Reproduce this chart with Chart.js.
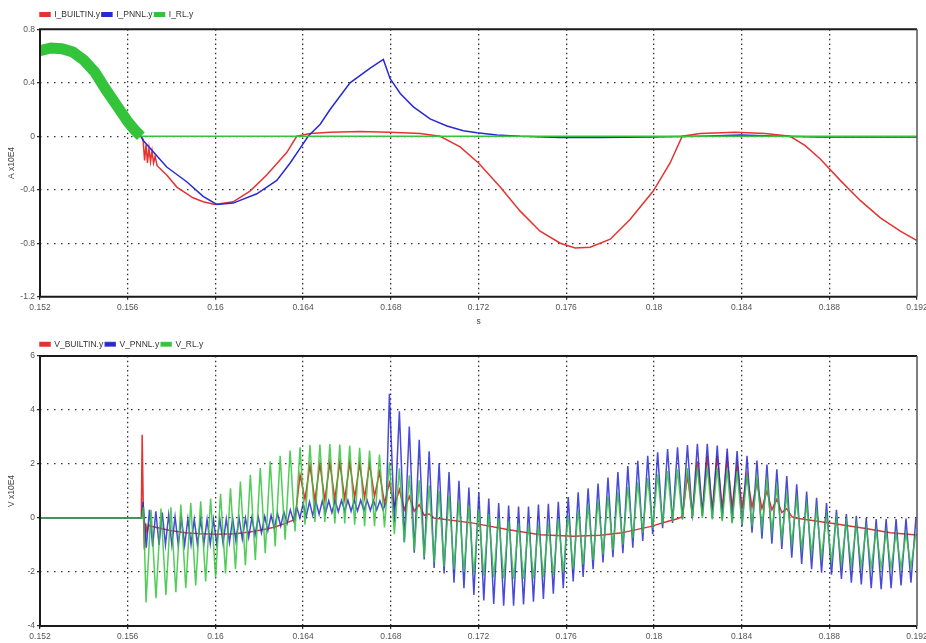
<!DOCTYPE html>
<html><head><meta charset="utf-8">
<script src="https://cdn.jsdelivr.net/npm/chart.js@4.4.1/dist/chart.umd.min.js"></script>
<style>
html,body{margin:0;padding:0;background:#fff;width:926px;height:643px;overflow:hidden;}
#c1{position:absolute;left:0;top:0;}
#c2{position:absolute;left:0;top:332px;}
</style></head><body>
<canvas id="c1" width="926" height="332"></canvas>
<canvas id="c2" width="926" height="311"></canvas>
<script>
// ---------- axes ----------
const xTickValues = [0.152,0.156,0.16,0.164,0.168,0.172,0.176,0.18,0.184,0.188,0.192];
const xTickLabels = ['0.152','0.156','0.16','0.164','0.168','0.172','0.176','0.18','0.184','0.188','0.192'];
const iTickValues = [-1.2,-0.8,-0.4,0,0.4,0.8];
const iTickLabels = ['-1.2','-0.8','-0.4','0','0.4','0.8'];
const vTickValues = [-4,-2,0,2,4,6];
const vTickLabels = ['-4','-2','0','2','4','6'];
const namesI = ['I_BUILTIN.y','I_PNNL.y','I_RL.y'];
const namesV = ['V_BUILTIN.y','V_PNNL.y','V_RL.y'];

// ---------- currents (A x10E4) ----------
// common pre-fault waveform (all three models coincide)
const tIPre = [0.152,0.1525,0.153,0.1535,0.154,0.1545,0.155,0.1555,0.156,0.1563,0.1566];
const iPre  = [0.64,0.66,0.655,0.63,0.57,0.48,0.35,0.23,0.11,0.05,0.0];

const tIBuiltin = [0.1567,0.15677,0.15684,0.1569,0.15697,0.15704,0.15711,0.15718,0.15725,0.15734,0.15778,0.15824,0.15898,0.15944,0.15998,0.16081,0.16158,0.16234,0.16326,0.16371,0.16432,0.16523,0.1666,0.16797,0.16934,0.17025,0.17116,0.172,0.17299,0.1739,0.17481,0.17573,0.17641,0.17709,0.17801,0.17892,0.17997,0.18074,0.18129,0.18211,0.18371,0.18508,0.18622,0.1869,0.18759,0.1885,0.18941,0.19033,0.19124,0.192];
const iBuiltin  = [-0.02,-0.18,-0.06,-0.20,-0.09,-0.19,-0.11,-0.20,-0.15,-0.22,-0.29,-0.38,-0.46,-0.49,-0.51,-0.49,-0.41,-0.29,-0.12,0.0,0.02,0.03,0.035,0.03,0.02,0.0,-0.08,-0.2,-0.38,-0.56,-0.71,-0.8,-0.835,-0.83,-0.77,-0.62,-0.41,-0.2,0.0,0.02,0.03,0.02,0.0,-0.07,-0.17,-0.33,-0.48,-0.61,-0.71,-0.78];

const tIPnnl = [0.1567,0.15778,0.15869,0.15944,0.16006,0.16081,0.16189,0.1628,0.16341,0.16386,0.16423,0.16478,0.16523,0.16614,0.16706,0.16766,0.16797,0.16843,0.16903,0.16979,0.17056,0.17131,0.17193,0.17284,0.1739,0.17573,0.17755,0.17983,0.18211,0.18394,0.18576,0.18759,0.192];
const iPnnl  = [-0.03,-0.23,-0.34,-0.45,-0.51,-0.50,-0.43,-0.33,-0.2,-0.09,0.0,0.09,0.2,0.4,0.51,0.575,0.43,0.32,0.22,0.13,0.077,0.042,0.027,0.01,0.0,-0.01,-0.01,-0.005,0.0,0.01,0.0,-0.005,-0.005];

const tIRl = [0.1567,0.192];
const iRl  = [0.0,0.0];

// ---------- voltages (V x10E4) ----------
// instants of the ringing extrema (alternating trough / peak)
const tRing = [
0.156837,0.157064,0.157290,0.157517,0.157743,0.157970,0.158196,0.158423,0.158649,0.158876,
0.159102,0.159329,0.159556,0.159782,0.160009,0.160235,0.160462,0.160688,0.160915,0.161141,
0.161368,0.161594,0.161821,0.162047,0.162274,0.162501,0.162727,0.162954,0.163180,0.163407,
0.163633,0.163860,0.164086,0.164313,0.164539,0.164766,0.164992,0.165219,0.165446,0.165672,
0.165899,0.166125,0.166352,0.166578,0.166805,0.167031,0.167258,0.167484,0.167711,0.167937,
0.168164,0.168391,0.168617,0.168844,0.169070,0.169297,0.169523,0.169750,0.169976,0.170203,
0.170429,0.170656,0.170882,0.171109,0.171336,0.171562,0.171789,0.172015,0.172242,0.172468,
0.172695,0.172921,0.173148,0.173374,0.173601,0.173827,0.174054,0.174281,0.174507,0.174734,
0.174960,0.175187,0.175413,0.175640,0.175866,0.176093,0.176319,0.176546,0.176773,0.176999,
0.177226,0.177452,0.177679,0.177905,0.178132,0.178358,0.178585,0.178811,0.179038,0.179265,
0.179491,0.179718,0.179944,0.180171,0.180397,0.180624,0.180850,0.181077,0.181303,0.181530,
0.181756,0.181983,0.182210,0.182436,0.182663,0.182889,0.183116,0.183342,0.183569,0.183795,
0.184022,0.184248,0.184475,0.184701,0.184928,0.185155,0.185381,0.185608,0.185834,0.186061,
0.186287,0.186514,0.186740,0.186967,0.187193,0.187420,0.187646,0.187873,0.188100,0.188326,
0.188553,0.188779,0.189006,0.189232,0.189459,0.189685,0.189912,0.190138,0.190365,0.190592,
0.190818,0.191045,0.191271,0.191498,0.191724,0.191951];

// V_RL at each ringing extremum
const vRlRing = [
-3.13,0.3,-2.97,0.35,-2.85,0.4,-2.75,0.5,-2.6,0.55,
-2.5,0.62,-2.35,0.72,-2.2,0.9,-2.05,1.1,-1.9,1.35,
-1.75,1.6,-1.55,1.85,-1.3,2.1,-1.05,2.3,-0.8,2.5,
-0.5,2.62,-0.25,2.7,-0.15,2.72,-0.15,2.74,-0.2,2.72,
-0.2,2.68,-0.25,2.6,-0.3,2.5,-0.3,2.35,-0.35,2.06,
-0.6,1.84,-0.9,1.58,-1.2,1.4,-1.45,1.2,-1.65,1.0,
-1.8,0.83,-1.9,0.62,-2.0,0.45,-2.08,0.3,-2.14,0.15,
-2.2,0.0,-2.24,-0.1,-2.26,-0.2,-2.26,-0.25,-2.24,-0.25,
-2.2,-0.2,-2.12,-0.05,-2.0,0.1,-1.88,0.3,-1.72,0.5,
-1.55,0.65,-1.35,0.8,-1.18,0.95,-0.98,1.15,-0.75,1.32,
-0.55,1.48,-0.38,1.62,-0.24,1.74,-0.12,1.8,-0.04,1.85,
0.0,1.88,0.0,1.88,-0.05,1.85,-0.12,1.8,-0.2,1.72,
-0.25,1.6,-0.3,1.5,-0.35,1.39,-0.5,1.15,-0.75,0.85,
-0.95,0.7,-1.12,0.5,-1.3,0.3,-1.45,0.1,-1.58,-0.03,
-1.68,-0.15,-1.75,-0.25,-1.8,-0.35,-1.84,-0.45,-1.85,-0.52,
-1.85,-0.56,-1.84,-0.58,-1.8,-0.58];

// V_PNNL: fast ripple before 0.168 s
const tPnnlEarly = [
0.156700,0.156846,0.156992,0.157138,0.157284,0.157430,0.157576,0.157722,0.157868,0.158014,
0.158160,0.158306,0.158452,0.158598,0.158744,0.158890,0.159036,0.159182,0.159328,0.159474,
0.159620,0.159766,0.159912,0.160058,0.160204,0.160350,0.160496,0.160642,0.160788,0.160934,
0.161080,0.161226,0.161372,0.161518,0.161664,0.161810,0.161956,0.162102,0.162248,0.162394,
0.162540,0.162686,0.162832,0.162978,0.163124,0.163270,0.163416,0.163562,0.163708,0.163854,
0.164000,0.164146,0.164292,0.164438,0.164584,0.164730,0.164876,0.165022,0.165168,0.165314,
0.165460,0.165606,0.165752,0.165898,0.166044,0.166190,0.166336,0.166482,0.166628,0.166774,
0.166920,0.167066,0.167212,0.167358,0.167504,0.167650,0.167796];
const vPnnlEarly = [
0.6,-1.1,0.3,-1.05,0.25,-1.0,0.2,-1.0,0.12,-1.0,
0.05,-1.0,0.0,-1.0,-0.03,-0.98,-0.05,-0.98,-0.05,-0.97,
-0.05,-0.96,-0.05,-0.95,-0.04,-0.94,-0.03,-0.9,-0.02,-0.85,
0.0,-0.78,0.0,-0.72,0.01,-0.63,0.04,-0.55,0.06,-0.47,
0.1,-0.38,0.17,-0.3,0.22,-0.2,0.3,-0.1,0.4,0.0,
0.52,0.06,0.6,0.1,0.62,0.14,0.63,0.18,0.64,0.2,
0.65,0.23,0.65,0.25,0.66,0.25,0.66,0.26,0.66,0.27,
0.66,0.28,0.65,0.3,0.64,0.3,0.6];
// V_PNNL at ringing extrema from index 49 (0.167937 s) on
const vPnnlRing = [
4.6,
-0.17,3.95,-0.9,3.39,-1.29,2.9,-1.54,2.47,-1.85,2.04,
-2.05,1.7,-2.4,1.38,-2.6,1.13,-2.85,0.95,-3.05,0.72,
-3.18,0.55,-3.25,0.46,-3.25,0.42,-3.2,0.42,-3.1,0.5,
-3.0,0.53,-2.8,0.6,-2.6,0.78,-2.35,0.95,-2.18,1.1,
-1.9,1.28,-1.65,1.5,-1.45,1.7,-1.3,1.92,-1.1,2.12,
-0.85,2.3,-0.6,2.43,-0.38,2.55,-0.18,2.62,-0.05,2.7,
0.0,2.75,0.08,2.75,0.0,2.68,-0.05,2.57,-0.16,2.48,
-0.3,2.3,-0.54,2.13,-0.77,1.98,-0.95,1.8,-1.15,1.55,
-1.47,1.25,-1.7,0.98,-1.9,0.75,-2.03,0.55,-2.1,0.3,
-2.26,0.15,-2.4,0.08,-2.46,0.0,-2.6,-0.04,-2.64,-0.04,
-2.6,-0.04,-2.5,-0.02,-2.4,0.0];

const tVBuiltin = [
0.152,0.15662,0.15666,0.15671,0.15676,0.15682,0.15688,0.15695,0.15702,0.15748,0.15793,0.15862,0.1593,0.16012,0.1609,0.16158,0.16227,0.16272,0.16318,0.163633,
0.16386,0.164086,0.164313,0.164539,0.164766,0.164992,0.165219,0.165446,0.165672,0.165899,0.166125,0.166352,0.166578,0.166805,0.167031,0.167258,0.167484,0.167711,0.167937,0.168164,0.168391,0.168617,0.168844,0.16907,0.169297,0.169523,0.16975,
0.169976,0.17176,0.17331,0.17481,0.17632,0.17755,0.17846,0.17983,0.18065,0.181077,
0.181303,0.18153,0.181756,0.181983,0.18221,0.182436,0.182663,0.182889,0.183116,0.183342,0.183569,0.183795,0.184022,0.184248,0.184475,0.184701,0.184928,0.185155,0.185381,0.185608,0.185834,0.186061,0.186287,
0.18645,0.18818,0.18973,0.19078,0.192];
const vVBuiltin = [
0,0,3.08,0.4,-1.17,-0.2,-0.55,-0.25,-0.3,-0.38,-0.46,-0.55,-0.58,-0.6,-0.58,-0.52,-0.42,-0.33,-0.2,-0.05,
1.6,0.7,1.95,0.65,2.0,0.65,2.05,0.7,2.05,0.7,2.05,0.75,2.0,0.75,2.0,0.8,1.7,0.55,1.3,0.43,1.05,0.31,0.8,0.25,0.49,0.1,0.15,
0.0,-0.19,-0.43,-0.62,-0.68,-0.64,-0.56,-0.32,-0.12,-0.03,
0.05,1.6,0.1,2.1,0.2,2.3,0.3,2.3,0.35,2.2,0.4,2.0,0.4,1.6,0.4,1.3,0.35,1.0,0.3,0.7,0.2,0.35,0.05,
0.0,-0.2,-0.4,-0.55,-0.63];

// ---------- styling ----------
const F = "'Liberation Sans', Arial, sans-serif";
const RED = '#e53330', BLUE = '#2a2ad2', GREEN = '#34c43c';
const BLUE_L = 'rgba(42,42,210,0.85)', GREEN_L = 'rgba(52,196,60,0.85)';

function pts(ts, vs) { return ts.map((t, i) => ({x: t, y: vs[i]})); }

function line(label, data, color, fillColor, order, extra) {
  return Object.assign({
    label, data, borderColor: color, backgroundColor: fillColor, borderWidth: 1.5,
    pointRadius: 0, pointHoverRadius: 0, tension: 0, fill: false, order
  }, extra || {});
}

function axisX(height, showTitle) {
  return {
    type: 'linear', min: 0.152, max: 0.192,
    afterBuildTicks: s => { s.ticks = xTickValues.map(v => ({value: v})); },
    afterFit: s => { s.height = height; s.paddingLeft = 0; s.paddingRight = 0; },
    ticks: { autoSkip: false, maxRotation: 0, minRotation: 0, padding: 3, color: '#555',
             font: {size: 8.5, family: F}, callback: (v, i) => xTickLabels[i] },
    grid: { color: c => (c.index === 0 || c.index === xTickValues.length - 1) ? 'rgba(0,0,0,0)' : '#333',
            lineWidth: 1.3, tickLength: 3, tickColor: '#222', tickWidth: 1.2 },
    border: { display: false, dash: [1.5, 3.2] },
    title: { display: showTitle, text: 's', color: '#444', font: {size: 8.5, family: F}, padding: {top: 0, bottom: 5} }
  };
}
function axisY(vals, labels, title) {
  return {
    type: 'linear', min: vals[0], max: vals[vals.length - 1],
    afterBuildTicks: s => { s.ticks = vals.map(v => ({value: v})); },
    afterFit: s => { s.width = 40; s.paddingTop = 0; s.paddingBottom = 0; },
    ticks: { autoSkip: false, padding: 2, color: '#555', font: {size: 8.5, family: F}, callback: (v, i) => labels[i] },
    grid: { color: c => (c.index === 0 || c.index === vals.length - 1) ? 'rgba(0,0,0,0)' : '#333',
            lineWidth: 1.3, tickLength: 3, tickColor: '#222', tickWidth: 1.2 },
    border: { display: false, dash: [1.5, 5.5] },
    title: { display: true, text: title, color: '#444', font: {size: 8.5, family: F}, padding: {top: 7, bottom: 0} }
  };
}

const framePlugin = {
  id: 'frame',
  afterDatasetsDraw(chart) {
    const {ctx, chartArea: a} = chart;
    ctx.save();
    ctx.strokeStyle = '#1a1a1a'; ctx.lineWidth = 2;
    ctx.beginPath();
    ctx.moveTo(a.right, a.top); ctx.lineTo(a.left, a.top); ctx.lineTo(a.left, a.bottom); ctx.lineTo(a.right, a.bottom);
    ctx.stroke();
    ctx.strokeStyle = '#555'; ctx.lineWidth = 1.5;
    ctx.beginPath(); ctx.moveTo(a.right, a.top); ctx.lineTo(a.right, a.bottom); ctx.stroke();
    ctx.restore();
  }
};
const legendPos = {
  id: 'legendPos',
  afterLayout(chart, args, opts) {
    const lg = chart.legend;
    if (!lg) return;
    lg.left = opts.x - 2;
    lg.top = opts.y;
  }
};

function legendOpts() {
  return {
    display: true, position: 'top', align: 'start',
    labels: { boxWidth: 10, boxHeight: 3.5, padding: 2, color: '#333', font: {size: 8.5, family: F},
              sort: (a, b) => a.datasetIndex - b.datasetIndex }
  };
}

Chart.defaults.font.family = F;

new Chart(document.getElementById('c1'), {
  type: 'line',
  data: {
    datasets: [
      line(namesI[0], pts(tIPre.concat(tIBuiltin), iPre.concat(iBuiltin)), RED, RED, 3),
      line(namesI[1], pts(tIPre.concat(tIPnnl), iPre.concat(iPnnl)), BLUE, BLUE, 2),
      line(namesI[2], pts(tIPre.concat(tIRl), iPre.concat(iRl)), GREEN, GREEN, 1,
           { segment: { borderWidth: c => (c.p1.parsed.x <= 0.15661 ? 11 : 1.5) } })
    ]
  },
  options: {
    responsive: false, maintainAspectRatio: false, animation: false, devicePixelRatio: 1, events: [],
    layout: { autoPadding: false, padding: {top: 8.8, left: 0, right: 9, bottom: 0} },
    scales: { x: axisX(35.3, true), y: axisY(iTickValues, iTickLabels, 'A x10E4') },
    plugins: { legend: legendOpts(), tooltip: {enabled: false}, legendPos: {x: 40, y: 8.2} }
  },
  plugins: [framePlugin, legendPos]
});

new Chart(document.getElementById('c2'), {
  type: 'line',
  data: {
    datasets: [
      line(namesV[0], pts(tVBuiltin, vVBuiltin), RED, RED, 3),
      line(namesV[1], pts([0.152, 0.15664].concat(tPnnlEarly, tRing.slice(49)), [0, 0].concat(vPnnlEarly, vPnnlRing)), BLUE_L, BLUE, 2),
      line(namesV[2], pts([0.152, 0.15664, 0.15672].concat(tRing), [0, 0, 0.4].concat(vRlRing)), GREEN_L, GREEN, 1)
    ]
  },
  options: {
    responsive: false, maintainAspectRatio: false, animation: false, devicePixelRatio: 1, events: [],
    layout: { autoPadding: false, padding: {top: 3.5, left: 0, right: 9, bottom: 0} },
    scales: { x: axisX(17, false), y: axisY(vTickValues, vTickLabels, 'V x10E4') },
    plugins: { legend: legendOpts(), tooltip: {enabled: false}, legendPos: {x: 40, y: 6.0} }
  },
  plugins: [framePlugin, legendPos]
});
</script>
</body></html>
